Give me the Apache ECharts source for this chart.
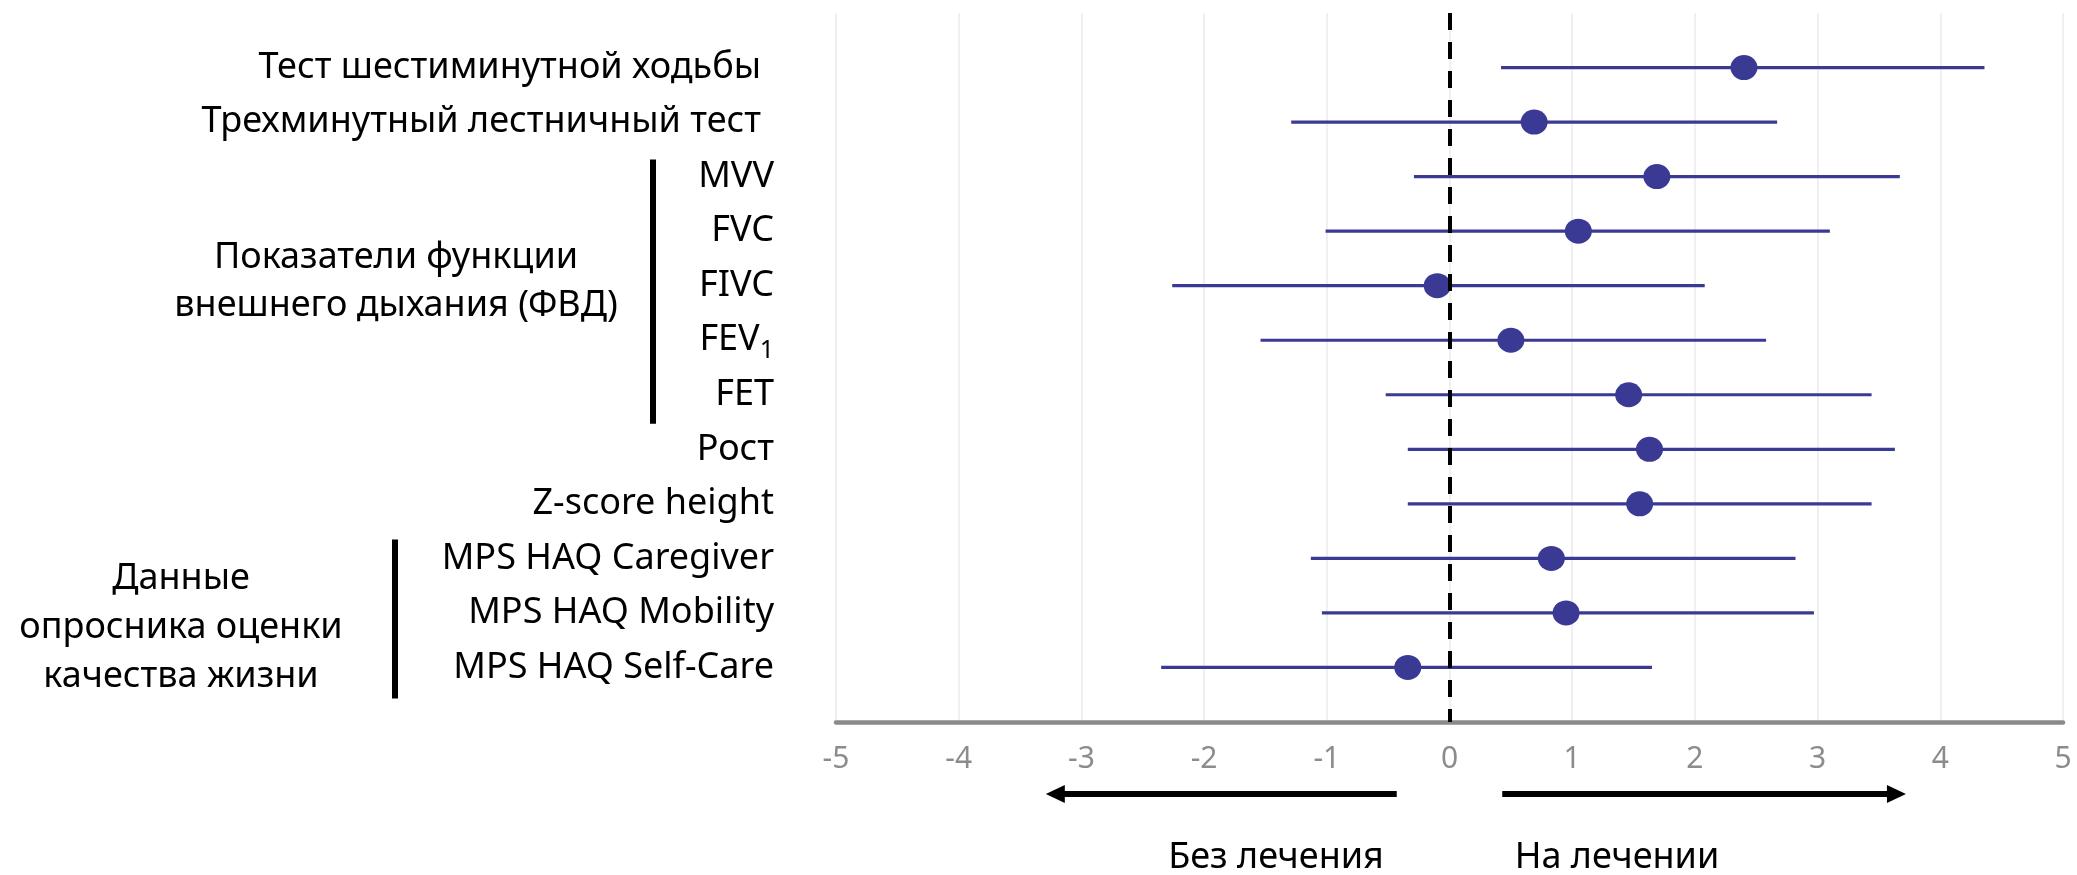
<!DOCTYPE html>
<html>
<head>
<meta charset="utf-8">
<script src="https://cdn.jsdelivr.net/npm/echarts@6/dist/echarts.min.js"></script>
<style>html,body{margin:0;padding:0;background:#fff;}#c{width:2077px;height:875px;}</style>
</head>
<body>
<div id="c"></div>
<script>
const rowLabels = [
  'Тест шестиминутной ходьбы',
  'Трехминутный лестничный тест',
  'MVV',
  'FVC',
  'FIVC',
  'FEV1',
  'FET',
  'Рост',
  'Z-score height',
  'MPS HAQ Caregiver',
  'MPS HAQ Mobility',
  'MPS HAQ Self-Care'
];
const estimates = [2.40, 0.69, 1.69, 1.05, -0.10, 0.50, 1.46, 1.63, 1.55, 0.83, 0.95, -0.34];
const lower     = [0.42, -1.29, -0.29, -1.01, -2.26, -1.54, -0.52, -0.34, -0.34, -1.13, -1.04, -2.35];
const upper     = [4.36, 2.67, 3.67, 3.10, 2.08, 2.58, 3.44, 3.63, 3.44, 2.82, 2.97, 1.65];
const xTickMin = -5, xTickMax = 5, xTickStep = 1;
const groupLabels = ['Показатели функции\nвнешнего дыхания (ФВД)', 'Данные\nопросника оценки\nкачества жизни'];
const groupRows = [[3, 7], [10, 12]];
const directionLabels = ['Без лечения', 'На лечении'];

const FONT = 'Noto Sans';
const BLUE = '#3a3a94';
const chart = echarts.init(document.getElementById('c'));

const option = {
  backgroundColor: '#fff',
  animation: false,
  grid: { left: 836, right: 14, top: 13, height: 709, containLabel: false },
  xAxis: {
    type: 'value', min: xTickMin, max: xTickMax, interval: xTickStep,
    axisLine: { show: true, onZero: false, lineStyle: { color: '#8a8a8a', width: 4.5 } },
    axisTick: { show: false },
    splitLine: { show: true, lineStyle: { color: '#ebebeb', width: 1.5 } },
    axisLabel: { color: '#8c8c8c', fontSize: 30, fontFamily: FONT, margin: 22 }
  },
  yAxis: {
    type: 'value', min: 0, max: rowLabels.length + 1, interval: 1, inverse: true,
    axisLine: { show: false }, axisTick: { show: false }, splitLine: { show: false },
    axisLabel: {
      margin: 62,
      fontFamily: FONT, fontSize: 36, color: '#000',
      formatter: function (v) {
        const lab = rowLabels[v - 1];
        if (!lab) return '';
        if (v <= 2) return '{a|' + lab + '}';
        if (lab === 'FEV1') return '{b|FEV}{s|1}';
        return '{b|' + lab + '}';
      },
      rich: {
        a: { fontFamily: FONT, fontSize: 36, color: '#000', padding: [0, 13, 0, 0] },
        b: { fontFamily: FONT, fontSize: 36, color: '#000' },
        s: { fontFamily: FONT, fontSize: 25, color: '#000', padding: [22, 0, 0, 0] }
      }
    }
  },
  series: [
    {
      type: 'custom',
      name: 'ci',
      encode: { x: [1, 2], y: 0 },
      data: rowLabels.map((_, i) => [i + 1, lower[i], upper[i]]),
      renderItem: function (params, api) {
        const y = api.value(0);
        const p1 = api.coord([api.value(1), y]);
        const p2 = api.coord([api.value(2), y]);
        return {
          type: 'line',
          shape: { x1: p1[0], y1: p1[1], x2: p2[0], y2: p2[1] },
          style: { stroke: BLUE, lineWidth: 3.2 }
        };
      },
      z: 2
    },
    {
      type: 'scatter',
      name: 'est',
      data: estimates.map((v, i) => [v, i + 1]),
      symbol: 'circle',
      symbolSize: [27, 25],
      itemStyle: { color: BLUE, opacity: 1 },
      z: 3
    },
    {
      type: 'scatter',
      name: 'zero',
      data: [],
      z: 10,
      markLine: {
        silent: true, symbol: 'none', label: { show: false },
        lineStyle: { color: '#000', width: 4, type: [17, 12] },
        data: [{ xAxis: 0 }],
        z: 10
      }
    }
  ]
};
chart.setOption(option);

// annotations computed from axes
const gfx = [];
groupRows.forEach((rg, gi) => {
  const yTop = chart.convertToPixel({ gridIndex: 0 }, [0, rg[0]])[1];
  const yBot = chart.convertToPixel({ gridIndex: 0 }, [0, rg[1]])[1];
  const barX = gi === 0 ? 653 : 395;
  const topPad = gi === 0 ? 17 : 19;
  const botPad = gi === 0 ? 29 : 31;
  gfx.push({ type: 'rect', shape: { x: barX - 3, y: yTop - topPad, width: 6, height: yBot - yTop + topPad + botPad }, style: { fill: '#000' } });
  const cx = gi === 0 ? 396 : 181;
  const cy = gi === 0 ? 281.5 : 628;
  const lh = gi === 0 ? 48 : 49;
  gfx.push({ type: 'text', x: cx, y: cy, style: { text: groupLabels[gi], fontFamily: FONT, fontSize: 36, fill: '#000', align: 'center', verticalAlign: 'middle', lineHeight: lh } });
});
const arrowY = 794;
const xL0 = chart.convertToPixel({ gridIndex: 0 }, [-0.43, 0])[0];
const xL1 = chart.convertToPixel({ gridIndex: 0 }, [-3.29, 0])[0];
const xR0 = chart.convertToPixel({ gridIndex: 0 }, [0.43, 0])[0];
const xR1 = chart.convertToPixel({ gridIndex: 0 }, [3.72, 0])[0];
gfx.push({ type: 'line', shape: { x1: xL0, y1: arrowY, x2: xL1 + 16, y2: arrowY }, style: { stroke: '#000', lineWidth: 6 } });
gfx.push({ type: 'polygon', shape: { points: [[xL1, arrowY], [xL1 + 19, arrowY - 9], [xL1 + 19, arrowY + 9]] }, style: { fill: '#000' } });
gfx.push({ type: 'line', shape: { x1: xR0, y1: arrowY, x2: xR1 - 16, y2: arrowY }, style: { stroke: '#000', lineWidth: 6 } });
gfx.push({ type: 'polygon', shape: { points: [[xR1, arrowY], [xR1 - 19, arrowY - 9], [xR1 - 19, arrowY + 9]] }, style: { fill: '#000' } });
gfx.push({ type: 'text', x: 1276, y: 858, style: { text: directionLabels[0], fontFamily: FONT, fontSize: 36, fill: '#000', align: 'center', verticalAlign: 'middle' } });
gfx.push({ type: 'text', x: 1617, y: 858, style: { text: directionLabels[1], fontFamily: FONT, fontSize: 36, fill: '#000', align: 'center', verticalAlign: 'middle' } });
chart.setOption({ graphic: gfx });
</script>
</body>
</html>
